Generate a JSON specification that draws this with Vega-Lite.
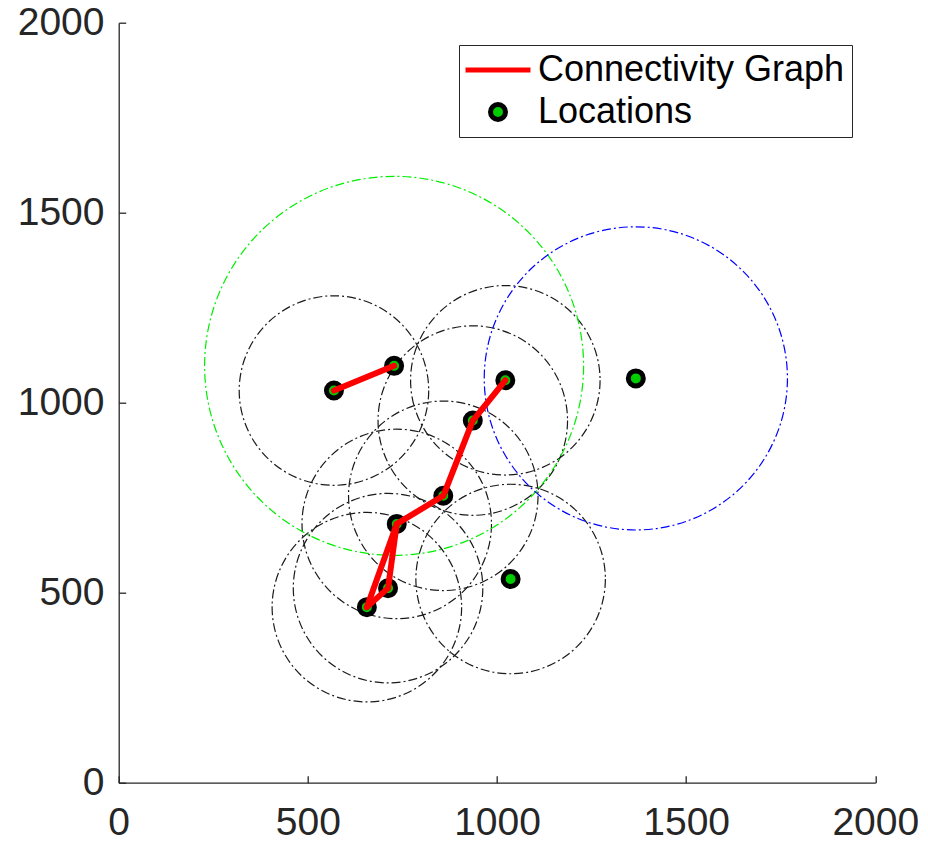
{
  "$schema": "https://vega.github.io/schema/vega-lite/v6.json",
  "width": 756.6,
  "height": 760,
  "autosize": "none",
  "padding": {"left": 118.7, "top": 22.7, "right": 52.7, "bottom": 60.3},
  "background": "white",
  "config": {
    "view": {"stroke": null},
    "axis": {
      "domainColor": "#262626",
      "domainWidth": 1.3,
      "tickColor": "#262626",
      "tickWidth": 1.3,
      "tickSize": -7,
      "labelFont": "Liberation Sans",
      "labelFontSize": 39,
      "labelColor": "#262626",
      "grid": false,
      "title": null,
      "format": "d",
      "labelFlush": false,
      "labelOverlap": false
    }
  },
  "datasets": {
    "ranges": [
      {"x": 569, "y": 1032, "radius": 250, "ring": "node"},
      {"x": 1022, "y": 1059, "radius": 250, "ring": "node"},
      {"x": 936, "y": 953, "radius": 250, "ring": "node"},
      {"x": 858, "y": 755, "radius": 250, "ring": "node"},
      {"x": 735, "y": 681, "radius": 250, "ring": "node"},
      {"x": 712, "y": 512, "radius": 250, "ring": "node"},
      {"x": 656, "y": 462, "radius": 250, "ring": "node"},
      {"x": 1036, "y": 536, "radius": 250, "ring": "node"},
      {"x": 728, "y": 1097, "radius": 500, "ring": "source"},
      {"x": 1367, "y": 1064, "radius": 400, "ring": "sink"}
    ],
    "locations": [
      {"x": 569, "y": 1032, "series": "Locations"},
      {"x": 728, "y": 1097, "series": "Locations"},
      {"x": 1022, "y": 1059, "series": "Locations"},
      {"x": 1367, "y": 1064, "series": "Locations"},
      {"x": 936, "y": 953, "series": "Locations"},
      {"x": 858, "y": 755, "series": "Locations"},
      {"x": 735, "y": 681, "series": "Locations"},
      {"x": 712, "y": 512, "series": "Locations"},
      {"x": 656, "y": 462, "series": "Locations"},
      {"x": 1036, "y": 536, "series": "Locations"}
    ],
    "edges": [
      {"x1": 569, "y1": 1032, "x2": 728, "y2": 1097, "series": "Connectivity Graph"},
      {"x1": 1022, "y1": 1059, "x2": 936, "y2": 953, "series": "Connectivity Graph"},
      {"x1": 936, "y1": 953, "x2": 858, "y2": 755, "series": "Connectivity Graph"},
      {"x1": 858, "y1": 755, "x2": 735, "y2": 681, "series": "Connectivity Graph"},
      {"x1": 735, "y1": 681, "x2": 656, "y2": 462, "series": "Connectivity Graph"},
      {"x1": 735, "y1": 681, "x2": 712, "y2": 512, "series": "Connectivity Graph"},
      {"x1": 712, "y1": 512, "x2": 656, "y2": 462, "series": "Connectivity Graph"}
    ]
  },
  "layer": [
    {
      "data": {"name": "ranges"},
      "transform": [{"filter": "datum.ring === 'node'"}],
      "mark": {"type": "point", "shape": "circle", "filled": false, "stroke": "#1a1a1a", "strokeWidth": 1.2, "strokeDash": [9, 3, 2, 3], "opacity": 1},
      "encoding": {
        "x": {"field": "x", "type": "quantitative", "scale": {"domain": [0, 2000], "nice": false}, "axis": {"values": [0, 500, 1000, 1500, 2000], "labelPadding": 28}},
        "y": {"field": "y", "type": "quantitative", "scale": {"domain": [0, 2000], "nice": false}, "axis": {"values": [0, 500, 1000, 1500, 2000], "labelPadding": 21.7}},
        "size": {"field": "radius", "type": "quantitative", "scale": {"type": "pow", "exponent": 2, "domain": [0, 500], "range": [0, 143641]}, "legend": null}
      }
    },
    {
      "data": {"name": "ranges"},
      "transform": [{"filter": "datum.ring === 'source'"}],
      "mark": {"type": "point", "shape": "circle", "filled": false, "stroke": "#00ee00", "strokeWidth": 1.2, "strokeDash": [9, 3, 2, 3], "opacity": 1},
      "encoding": {
        "x": {"field": "x", "type": "quantitative"},
        "y": {"field": "y", "type": "quantitative"},
        "size": {"field": "radius", "type": "quantitative", "legend": null}
      }
    },
    {
      "data": {"name": "ranges"},
      "transform": [{"filter": "datum.ring === 'sink'"}],
      "mark": {"type": "point", "shape": "circle", "filled": false, "stroke": "#0000ff", "strokeWidth": 1.2, "strokeDash": [9, 3, 2, 3], "opacity": 1},
      "encoding": {
        "x": {"field": "x", "type": "quantitative"},
        "y": {"field": "y", "type": "quantitative"},
        "size": {"field": "radius", "type": "quantitative", "legend": null}
      }
    },
    {
      "data": {"name": "locations"},
      "mark": {"type": "point", "filled": true, "strokeWidth": 5, "size": 225, "opacity": 1},
      "encoding": {
        "x": {"field": "x", "type": "quantitative"},
        "y": {"field": "y", "type": "quantitative"},
        "color": {
          "field": "series", "type": "nominal",
          "scale": {"domain": ["Connectivity Graph", "Locations"], "range": ["#ff0000", "#00cc00"]},
          "legend": {
            "orient": "none",
            "legendX": 340.3,
            "legendY": 22.3,
            "title": null,
            "labelFont": "Liberation Sans",
            "labelFontSize": 36,
            "labelColor": "black",
            "labelLimit": 500,
            "symbolSize": 225,
            "symbolStrokeWidth": 5,
            "symbolOffset": 14,
            "labelOffset": 22,
            "rowPadding": 6,
            "strokeColor": "#262626",
            "fillColor": "white",
            "padding": 7
          }
        },
        "stroke": {
          "field": "series", "type": "nominal",
          "scale": {"domain": ["Connectivity Graph", "Locations"], "range": ["#ff0000", "#000000"]},
          "legend": {
            "orient": "none",
            "legendX": 340.3,
            "legendY": 22.3,
            "title": null
          }
        },
        "shape": {
          "field": "series", "type": "nominal",
          "scale": {"domain": ["Connectivity Graph", "Locations"], "range": ["M-4.33,0H4.33", "circle"]},
          "legend": {
            "orient": "none",
            "legendX": 340.3,
            "legendY": 22.3,
            "title": null
          }
        }
      }
    },
    {
      "data": {"name": "edges"},
      "mark": {"type": "rule", "color": "#ff0000", "strokeWidth": 6, "strokeCap": "round", "opacity": 1},
      "encoding": {
        "x": {"field": "x1", "type": "quantitative"},
        "y": {"field": "y1", "type": "quantitative"},
        "x2": {"field": "x2"},
        "y2": {"field": "y2"}
      }
    }
  ]
}
